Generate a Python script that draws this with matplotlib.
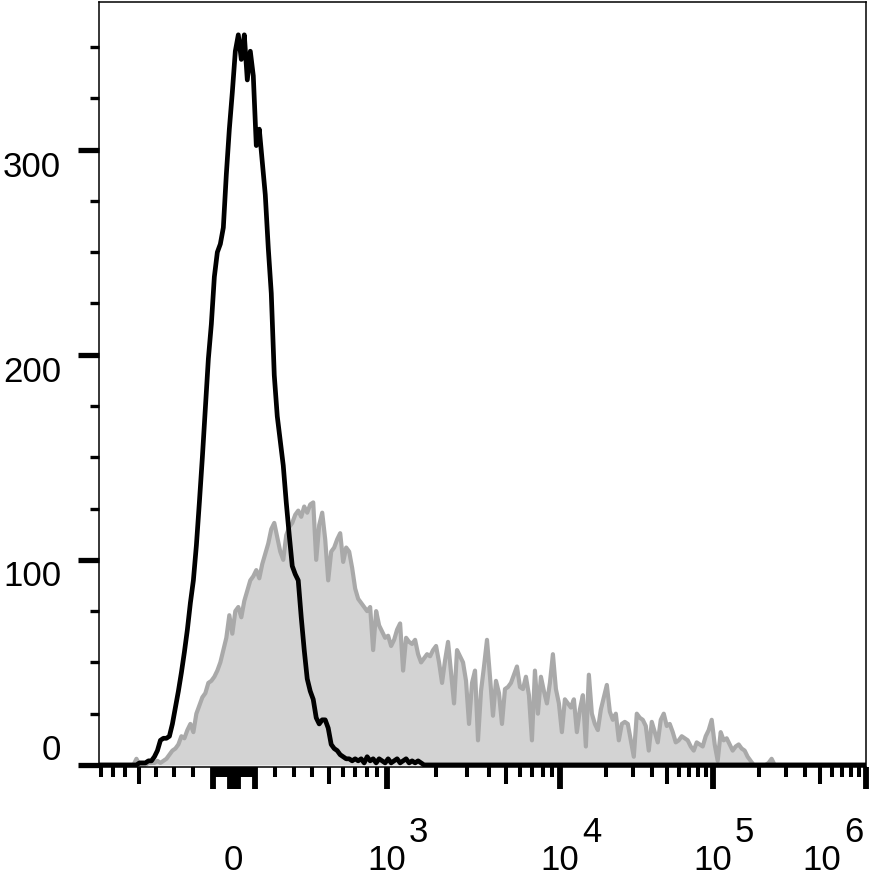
import numpy as np
import matplotlib
matplotlib.use('Agg')
import matplotlib.pyplot as plt
from matplotlib.ticker import FixedLocator, NullFormatter

plt.rcParams['font.family'] = ['Liberation Sans', 'DejaVu Sans']

# biexponential-like display: anchor values and their positions (display units)
SCALE_VALS = np.array([0, 500, 1000, 1e4, 1e5, 1e6, 1e7])
SCALE_POS = np.array([0, 95, 153, 326, 479, 632, 785])
W = 600.0
u_a = np.arcsinh(SCALE_VALS / W)
U = np.concatenate([-u_a[:0:-1], u_a])
P = np.concatenate([-SCALE_POS[:0:-1], SCALE_POS])


def fwd(x):
    return np.interp(np.arcsinh(np.asarray(x, float) / W), U, P)


def inv(p):
    return W * np.sinh(np.interp(np.asarray(p, float), P, U))


N_BINS = 256
P_LEFT, P_RIGHT = -135, 632

# histogram counts (channel index of first value, then counts)
BLACK_START = 13
BLACK_COUNTS = [1, 1, 1, 2, 2, 4, 7, 12, 13, 13, 14, 20, 28, 36, 45, 55, 66, 79, 90, 107,
                128, 150, 174, 198, 215, 238, 250, 254, 262, 288, 310, 328, 348, 356, 344, 356,
                334, 348, 336, 302, 310, 294, 278, 252, 230, 190, 170, 158, 146, 128, 112, 97,
                93, 90, 72, 56, 42, 36, 32, 23, 20, 22, 22, 18, 10, 8, 7, 5, 4, 3, 3, 2, 3,
                2, 3, 1, 4, 2, 3, 1, 3, 2, 1, 3, 1, 2, 3, 1, 2, 3, 1, 2, 1, 2, 1, 0]

GRAY_START = 11
GRAY_COUNTS = [0, 3, 0, 0, 0, 1, 1, 1, 2, 1,
               2, 3, 5, 7, 8, 10, 14, 13, 17, 20,
               16, 25, 29, 33, 35, 40, 41, 43, 46, 50,
               56, 62, 73, 64, 75, 77, 72, 80, 85, 90,
               92, 95, 91, 98, 103, 108, 115, 118, 111, 104,
               100, 112, 116, 118, 122, 124, 121, 126, 123, 127,
               128, 100, 117, 123, 110, 90, 104, 106, 110, 113,
               99, 106, 104, 96, 86, 81, 79, 77, 75, 77,
               56, 75, 68, 65, 62, 63, 58, 61, 66, 69,
               46, 62, 60, 59, 61, 54, 50, 52, 54, 53,
               56, 58, 50, 40, 51, 60,
               45, 30, 56, 53, 50, 41, 20, 40, 46, 12,
               36, 48, 61, 43, 24, 41, 35, 20, 37, 38,
               40, 44, 48, 38, 37, 43, 34, 12, 46, 25,
               43, 36, 30, 40, 54, 37, 30, 16, 32, 30,
               28, 32, 16, 27, 34, 9, 44, 25, 20, 17,
               27, 33, 39, 26, 22, 25, 12, 20, 21, 20,
               12, 4, 25, 23, 22, 19, 7, 21, 16, 11,
               22, 25, 19, 20, 16, 11, 12, 14, 13, 12,
               9, 7, 11, 10, 9, 14, 17, 22, 10, 2,
               16, 12, 13, 10, 7, 9, 10, 8, 7, 4, 2,
               0, 0, 0, 0, 0, 1, 3, 0]

Y_MAJOR = [0, 100, 200, 300]
Y_MINOR = [25, 50, 75, 125, 150, 175, 225, 250, 275, 325, 350]
X_MAJOR = [-100, -20, -10, 0, 10, 20, 100, 1e3, 1e4, 1e5, 1e6]
X_MEDIUM = [-500, 500, 5e3, 5e4, 5e5]
X_MINOR = ([-800, -700, -600, -500, -400, -300, -200]
           + [-90, -80, -70, -60, -50, -40, -30, 30, 40, 50, 60, 70, 80, 90]
           + [200, 300, 400, 500, 600, 700, 800, 900]
           + [2e3, 3e3, 4e3, 5e3, 6e3, 7e3, 8e3, 9e3]
           + [2e4, 3e4, 4e4, 5e4, 6e4, 7e4, 8e4, 9e4]
           + [2e5, 3e5, 4e5, 5e5, 6e5, 7e5, 8e5, 9e5])

edges_p = np.linspace(P_LEFT, P_RIGHT, N_BINS + 1)
centers = inv((edges_p[:-1] + edges_p[1:]) / 2)
black = np.zeros(N_BINS)
black[BLACK_START:BLACK_START + len(BLACK_COUNTS)] = BLACK_COUNTS
gray = np.zeros(N_BINS)
gray[GRAY_START:GRAY_START + len(GRAY_COUNTS)] = GRAY_COUNTS

fig = plt.figure(figsize=(8.82, 8.83), dpi=100)
ax = fig.add_axes([99 / 882, 1 - 767 / 883, 767 / 882, 765 / 883])
ax.set_xscale('function', functions=(fwd, inv))

ax.fill_between(centers, 0, gray, color='#d3d3d3', lw=0, zorder=1)
ax.plot(centers, gray, color='#a9a9a9', lw=3.0, zorder=2)
ax.plot(centers, black, color='black', lw=3.4, zorder=3)

ax.set_xlim(inv(P_LEFT), 1e6)
ax.set_ylim(-1, 372)

for s in ax.spines.values():
    s.set_linewidth(1.1)

ax.xaxis.set_major_locator(FixedLocator(X_MAJOR))
ax.xaxis.set_minor_locator(FixedLocator(X_MINOR))
ax.xaxis.set_major_formatter(NullFormatter())
ax.xaxis.set_minor_formatter(NullFormatter())
ax.tick_params(axis='x', which='major', direction='out', length=16, width=4.2)
ax.tick_params(axis='x', which='minor', direction='out', length=7.5, width=2.9)
for tick, loc in zip(ax.xaxis.get_minor_ticks(len(X_MINOR)), X_MINOR):
    if loc in X_MEDIUM:
        tick.tick1line.set_markersize(12.5)

ax.yaxis.set_major_locator(FixedLocator(Y_MAJOR))
ax.yaxis.set_minor_locator(FixedLocator(Y_MINOR))
ax.yaxis.set_major_formatter(NullFormatter())
ax.tick_params(axis='y', which='major', direction='out', length=15, width=3.8)
ax.tick_params(axis='y', which='minor', direction='out', length=6.5, width=2.4)

# y labels
y_base_off = {0: 5, 100: -26, 200: -27, 300: -27}
for v in Y_MAJOR:
    ax.annotate(str(v), xy=(0, v), xycoords=('axes fraction', 'data'),
                xytext=(-38, y_base_off[v]), textcoords='offset pixels',
                ha='right', va='baseline', fontsize=25)

# x labels
xt = ax.get_xaxis_transform()
ax.annotate('0', xy=(0, 0), xycoords=xt, xytext=(-1, -103), textcoords='offset pixels',
            ha='center', va='baseline', fontsize=25)
X_EXP = [3, 4, 5, 6]
X_SHIFT = [0, 0, 0, -44]
for e, sh in zip(X_EXP, X_SHIFT):
    ax.annotate('10', xy=(10.0 ** e, 0), xycoords=xt, xytext=(sh, -103),
                textcoords='offset pixels', ha='center', va='baseline', fontsize=25)
    ax.annotate(str(e), xy=(10.0 ** e, 0), xycoords=xt, xytext=(sh + 22, -75),
                textcoords='offset pixels', ha='left', va='baseline', fontsize=25)

fig.savefig('out.png', dpi=100)
